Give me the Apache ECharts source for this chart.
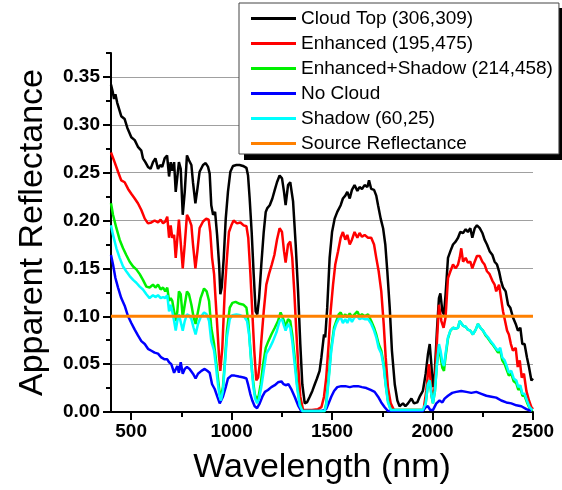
<!DOCTYPE html>
<html>
<head>
<meta charset="utf-8">
<script src="https://cdn.jsdelivr.net/npm/echarts@6/dist/echarts.min.js"></script>
<style>
  html, body { margin: 0; padding: 0; background: #fff; }
  #chart { width: 562px; height: 490px; }
</style>
</head>
<body>
<div id="chart"></div>
<script>
// [wavelength nm, apparent reflectance]
const cloudTop = [
  [400,0.342],[408,0.335],[415,0.327],[422,0.332],[431,0.323],[451,0.309],[468,0.306],[481,0.297],
  [501,0.287],[518,0.284],[534,0.277],[551,0.273],[559,0.265],[571,0.261],[584,0.256],[597,0.254],
  [609,0.261],[621,0.265],[634,0.254],[645,0.258],[655,0.256],[667,0.265],[679,0.268],[689,0.246],
  [697,0.261],[705,0.252],[714,0.261],[722,0.230],[730,0.228],[738,0.261],[747,0.254],[757,0.206],
  [767,0.230],[778,0.268],[788,0.263],[800,0.258],[808,0.240],[820,0.218],[830,0.233],[841,0.251],
  [858,0.258],[871,0.260],[883,0.256],[891,0.249],[899,0.216],[908,0.206],[918,0.209],[928,0.185],
  [938,0.154],[944,0.123],[951,0.130],[961,0.161],[971,0.202],[982,0.230],[994,0.251],[1007,0.257],
  [1024,0.258],[1040,0.258],[1057,0.257],[1074,0.255],[1082,0.247],[1090,0.223],[1100,0.188],[1110,0.144],
  [1120,0.105],[1128,0.102],[1137,0.119],[1148,0.154],[1160,0.188],[1170,0.209],[1178,0.213],[1190,0.216],
  [1203,0.223],[1215,0.232],[1226,0.240],[1239,0.247],[1251,0.244],[1261,0.230],[1269,0.216],[1281,0.237],
  [1292,0.240],[1306,0.220],[1319,0.175],[1331,0.126],[1342,0.071],[1352,0.029],[1364,0.009],[1375,0.010],
  [1389,0.016],[1402,0.022],[1414,0.029],[1425,0.035],[1438,0.043],[1447,0.057],[1460,0.081],[1466,0.078],
  [1476,0.109],[1488,0.161],[1500,0.188],[1513,0.202],[1526,0.209],[1543,0.216],[1554,0.223],[1566,0.226],
  [1576,0.230],[1588,0.223],[1599,0.232],[1612,0.237],[1626,0.231],[1637,0.235],[1649,0.233],[1662,0.237],
  [1676,0.235],[1684,0.242],[1695,0.233],[1709,0.232],[1720,0.226],[1729,0.216],[1742,0.202],[1754,0.192],
  [1765,0.175],[1775,0.147],[1787,0.109],[1798,0.064],[1812,0.029],[1825,0.012],[1836,0.006],[1853,0.009],
  [1865,0.006],[1878,0.009],[1895,0.014],[1908,0.009],[1924,0.010],[1936,0.016],[1952,0.022],[1966,0.040],
  [1977,0.060],[1986,0.071],[1994,0.050],[2002,0.026],[2011,0.040],[2022,0.085],[2032,0.119],[2039,0.124],
  [2049,0.105],[2057,0.102],[2065,0.123],[2077,0.161],[2089,0.168],[2102,0.175],[2115,0.178],[2127,0.182],
  [2138,0.188],[2152,0.187],[2165,0.191],[2176,0.188],[2188,0.192],[2198,0.182],[2210,0.192],[2221,0.195],
  [2235,0.192],[2248,0.187],[2259,0.180],[2271,0.175],[2284,0.168],[2298,0.164],[2309,0.157],[2321,0.154],
  [2331,0.147],[2341,0.137],[2351,0.130],[2364,0.126],[2376,0.112],[2387,0.109],[2400,0.099],[2414,0.092],
  [2425,0.085],[2437,0.088],[2447,0.071],[2458,0.071],[2470,0.057],[2480,0.047],[2492,0.033],[2500,0.035]
];

const enhanced = [
  [400,0.271],[418,0.261],[435,0.251],[451,0.242],[468,0.240],[485,0.233],[501,0.228],[518,0.223],
  [534,0.218],[551,0.211],[568,0.202],[584,0.197],[601,0.198],[617,0.200],[634,0.198],[647,0.201],
  [659,0.197],[670,0.199],[680,0.204],[689,0.182],[697,0.195],[705,0.182],[714,0.185],[722,0.161],
  [730,0.161],[738,0.201],[747,0.199],[757,0.150],[767,0.175],[778,0.206],[788,0.202],[800,0.195],
  [808,0.175],[820,0.150],[830,0.168],[841,0.192],[858,0.199],[874,0.202],[886,0.201],[894,0.188],
  [903,0.161],[913,0.144],[921,0.116],[928,0.092],[938,0.057],[944,0.043],[954,0.067],[966,0.126],
  [977,0.161],[987,0.188],[999,0.195],[1010,0.200],[1027,0.197],[1044,0.198],[1060,0.195],[1074,0.194],
  [1083,0.182],[1093,0.147],[1103,0.105],[1113,0.064],[1123,0.033],[1132,0.036],[1140,0.050],[1148,0.074],
  [1160,0.105],[1173,0.133],[1186,0.144],[1200,0.154],[1213,0.164],[1226,0.180],[1239,0.192],[1251,0.188],
  [1261,0.168],[1269,0.156],[1281,0.175],[1292,0.178],[1302,0.161],[1312,0.126],[1322,0.085],[1332,0.047],
  [1342,0.016],[1356,0.002],[1400,0.002],[1430,0.003],[1447,0.005],[1460,0.016],[1471,0.036],[1483,0.071],
  [1493,0.105],[1505,0.133],[1516,0.154],[1530,0.168],[1543,0.182],[1554,0.188],[1566,0.180],[1576,0.185],
  [1588,0.175],[1599,0.180],[1612,0.188],[1626,0.182],[1637,0.187],[1649,0.183],[1662,0.185],[1679,0.182],
  [1695,0.182],[1709,0.175],[1720,0.161],[1732,0.147],[1745,0.126],[1757,0.092],[1767,0.057],[1778,0.026],
  [1792,0.009],[1808,0.002],[1955,0.002],[1969,0.022],[1982,0.050],[1989,0.036],[1999,0.012],[2011,0.026],
  [2022,0.074],[2032,0.112],[2044,0.095],[2055,0.088],[2065,0.099],[2077,0.140],[2089,0.147],[2102,0.154],
  [2115,0.150],[2127,0.154],[2135,0.161],[2143,0.171],[2152,0.157],[2165,0.161],[2176,0.156],[2188,0.157],
  [2198,0.150],[2210,0.157],[2221,0.163],[2235,0.163],[2248,0.157],[2259,0.154],[2271,0.147],[2284,0.144],
  [2298,0.137],[2309,0.133],[2317,0.126],[2331,0.133],[2341,0.119],[2351,0.105],[2361,0.095],[2371,0.085],
  [2380,0.081],[2390,0.071],[2400,0.064],[2414,0.067],[2424,0.047],[2434,0.054],[2444,0.036],[2455,0.040],
  [2467,0.022],[2480,0.012],[2492,0.005],[2500,0.003]
];

const enhancedShadow = [
  [400,0.218],[410,0.206],[427,0.192],[443,0.180],[460,0.171],[476,0.164],[493,0.157],[510,0.152],
  [526,0.149],[543,0.144],[559,0.138],[576,0.131],[592,0.130],[609,0.133],[621,0.130],[634,0.133],
  [647,0.128],[659,0.130],[670,0.126],[680,0.130],[689,0.116],[697,0.119],[705,0.116],[714,0.105],
  [722,0.095],[730,0.105],[738,0.126],[747,0.123],[757,0.099],[767,0.112],[778,0.126],[788,0.123],
  [800,0.112],[811,0.099],[821,0.092],[833,0.105],[846,0.119],[863,0.129],[876,0.126],[888,0.116],
  [899,0.088],[913,0.071],[921,0.057],[932,0.036],[941,0.019],[947,0.016],[957,0.026],[967,0.054],
  [977,0.085],[991,0.109],[1004,0.114],[1020,0.115],[1040,0.113],[1060,0.112],[1074,0.109],[1083,0.095],
  [1093,0.067],[1103,0.040],[1115,0.019],[1125,0.013],[1135,0.017],[1145,0.029],[1157,0.050],[1170,0.067],
  [1183,0.074],[1198,0.081],[1215,0.088],[1231,0.095],[1244,0.104],[1253,0.105],[1261,0.095],[1269,0.088],
  [1281,0.097],[1292,0.095],[1302,0.081],[1314,0.057],[1326,0.029],[1339,0.009],[1352,0.001],[1463,0.001],
  [1471,0.009],[1483,0.036],[1496,0.067],[1510,0.088],[1521,0.095],[1533,0.102],[1543,0.104],[1554,0.099],
  [1566,0.102],[1576,0.099],[1588,0.103],[1599,0.099],[1612,0.102],[1626,0.105],[1637,0.100],[1649,0.102],
  [1662,0.100],[1679,0.102],[1695,0.095],[1709,0.088],[1720,0.081],[1732,0.071],[1745,0.064],[1757,0.050],
  [1767,0.029],[1778,0.012],[1792,0.002],[1955,0.002],[1966,0.009],[1977,0.029],[1986,0.033],[1994,0.019],
  [2002,0.009],[2012,0.022],[2022,0.050],[2032,0.068],[2040,0.058],[2049,0.046],[2057,0.043],[2065,0.058],
  [2077,0.077],[2089,0.085],[2102,0.088],[2115,0.087],[2127,0.088],[2135,0.095],[2143,0.097],[2152,0.090],
  [2165,0.089],[2176,0.086],[2188,0.085],[2201,0.081],[2215,0.086],[2226,0.092],[2238,0.088],[2251,0.085],
  [2264,0.080],[2276,0.077],[2289,0.073],[2301,0.070],[2314,0.066],[2326,0.062],[2337,0.064],[2347,0.054],
  [2359,0.050],[2371,0.043],[2380,0.038],[2392,0.040],[2404,0.032],[2417,0.030],[2427,0.023],[2437,0.026],
  [2447,0.017],[2458,0.017],[2470,0.010],[2483,0.004],[2497,0.001]
];

const noCloud = [
  [400,0.164],[410,0.154],[422,0.140],[435,0.130],[451,0.119],[468,0.111],[485,0.100],[501,0.093],
  [518,0.086],[534,0.080],[551,0.074],[568,0.071],[584,0.066],[601,0.064],[617,0.062],[634,0.061],
  [650,0.057],[667,0.055],[680,0.055],[689,0.052],[700,0.050],[714,0.041],[722,0.043],[730,0.048],
  [738,0.041],[747,0.052],[757,0.040],[767,0.045],[778,0.047],[791,0.045],[808,0.040],[821,0.035],
  [833,0.040],[850,0.043],[866,0.045],[879,0.043],[891,0.041],[903,0.029],[916,0.024],[929,0.016],
  [941,0.009],[949,0.009],[957,0.016],[971,0.026],[982,0.035],[999,0.038],[1015,0.038],[1037,0.037],
  [1060,0.036],[1074,0.035],[1083,0.028],[1093,0.019],[1103,0.012],[1115,0.006],[1127,0.004],[1140,0.009],
  [1153,0.016],[1166,0.021],[1181,0.023],[1198,0.026],[1215,0.028],[1231,0.031],[1248,0.032],[1259,0.029],
  [1269,0.028],[1283,0.029],[1297,0.024],[1314,0.016],[1331,0.007],[1347,0.001],[1447,0.001],[1471,0.003],
  [1483,0.009],[1496,0.016],[1510,0.022],[1526,0.026],[1546,0.027],[1566,0.027],[1588,0.026],[1609,0.027],
  [1629,0.027],[1649,0.026],[1671,0.025],[1692,0.023],[1712,0.021],[1729,0.016],[1745,0.010],[1762,0.005],
  [1778,0.001],[1952,0.001],[1966,0.005],[1977,0.006],[1989,0.002],[2002,0.002],[2019,0.009],[2035,0.012],
  [2049,0.010],[2060,0.014],[2077,0.017],[2098,0.020],[2118,0.021],[2143,0.022],[2168,0.021],[2193,0.020],
  [2218,0.021],[2243,0.019],[2268,0.017],[2293,0.016],[2317,0.015],[2342,0.012],[2367,0.010],[2392,0.009],
  [2417,0.007],[2442,0.006],[2467,0.003],[2492,0.001]
];

const shadow = [
  [400,0.195],[410,0.185],[427,0.171],[443,0.161],[460,0.152],[476,0.147],[493,0.142],[510,0.138],
  [526,0.135],[543,0.131],[559,0.128],[576,0.123],[592,0.119],[609,0.122],[621,0.120],[634,0.122],
  [647,0.119],[659,0.120],[670,0.119],[680,0.122],[689,0.105],[697,0.112],[705,0.105],[714,0.095],
  [722,0.085],[730,0.095],[738,0.102],[747,0.100],[757,0.085],[767,0.095],[778,0.102],[788,0.101],
  [800,0.097],[811,0.088],[821,0.081],[833,0.092],[846,0.099],[863,0.104],[876,0.102],[888,0.095],
  [899,0.074],[913,0.064],[921,0.050],[932,0.029],[941,0.016],[947,0.012],[957,0.022],[967,0.050],
  [977,0.078],[991,0.097],[1004,0.101],[1024,0.102],[1044,0.101],[1065,0.099],[1077,0.095],[1087,0.081],
  [1097,0.054],[1107,0.029],[1117,0.014],[1127,0.009],[1137,0.014],[1148,0.026],[1160,0.043],[1173,0.061],
  [1190,0.067],[1206,0.074],[1223,0.083],[1239,0.095],[1251,0.097],[1261,0.090],[1269,0.085],[1281,0.092],
  [1292,0.088],[1302,0.074],[1314,0.050],[1326,0.026],[1339,0.007],[1352,0.001],[1463,0.001],[1471,0.007],
  [1483,0.033],[1496,0.064],[1510,0.085],[1521,0.092],[1533,0.097],[1543,0.099],[1554,0.093],[1566,0.097],
  [1576,0.093],[1588,0.099],[1599,0.094],[1612,0.099],[1626,0.100],[1637,0.097],[1649,0.098],[1662,0.097],
  [1679,0.097],[1695,0.092],[1709,0.085],[1720,0.078],[1732,0.067],[1745,0.061],[1757,0.047],[1767,0.028],
  [1778,0.010],[1792,0.002],[1952,0.002],[1966,0.009],[1977,0.029],[1986,0.033],[1994,0.019],[2002,0.009],
  [2012,0.022],[2022,0.050],[2032,0.071],[2040,0.064],[2049,0.052],[2057,0.048],[2065,0.061],[2077,0.078],
  [2089,0.085],[2102,0.088],[2115,0.087],[2127,0.088],[2135,0.095],[2143,0.097],[2152,0.090],[2165,0.089],
  [2176,0.086],[2188,0.085],[2201,0.081],[2215,0.086],[2226,0.092],[2238,0.088],[2251,0.085],[2264,0.081],
  [2276,0.078],[2289,0.074],[2301,0.071],[2314,0.067],[2326,0.064],[2337,0.067],[2347,0.057],[2359,0.054],
  [2371,0.047],[2380,0.041],[2392,0.043],[2404,0.035],[2417,0.033],[2427,0.026],[2437,0.028],[2447,0.019],
  [2458,0.019],[2470,0.012],[2483,0.005],[2497,0.002]
];

const sourceRange = [400, 2500];
const sourceLevel = 0.10;

const xMajorTicks = [500, 1000, 1500, 2000, 2500];
const xMinorTicks = [750, 1250, 1750, 2250];
const yMajorTicks = [0, 0.05, 0.10, 0.15, 0.20, 0.25, 0.30, 0.35];
const yMinorTicks = [0.025, 0.075, 0.125, 0.175, 0.225, 0.275, 0.325, 0.375];

const names = [
  'Cloud Top (306,309)',
  'Enhanced (195,475)',
  'Enhanced+Shadow (214,458)',
  'No Cloud',
  'Shadow (60,25)',
  'Source Reflectance'
];
const colors = ['#000000', '#ff0000', '#00f000', '#0000ff', '#00ffff', '#ff8000'];
const seriesData = [
  cloudTop, enhanced, enhancedShadow, noCloud, shadow,
  sourceRange.map(w => [w, sourceLevel])
];

const FONT = 'Liberation Sans, Arial, sans-serif';

const chart = echarts.init(document.getElementById('chart'), null, { renderer: 'canvas' });

const xRange = { min: 400, max: 2500 };
const yRange = { min: 0, max: 0.375 };

chart.setOption({
  animation: false,
  backgroundColor: '#fff',
  grid: { left: 111, right: 29, top: 53, bottom: 75 },
  // hard drop shadow behind the legend box
  graphic: [{
    type: 'rect',
    left: 244, top: 8, z: 1, silent: true,
    shape: { width: 330, height: 152 },
    style: { fill: '#000' }
  }],
  legend: {
    data: names,
    orient: 'vertical',
    left: 239,
    top: 3,
    z: 10,
    padding: [6, 6, 1, 12],
    icon: 'rect',
    itemWidth: 45,
    itemHeight: 3,
    itemGap: 6,
    backgroundColor: '#fff',
    borderColor: '#444',
    borderWidth: 1,
    textStyle: { fontFamily: FONT, fontSize: 19, color: '#000', lineHeight: 19 }
  },
  xAxis: [
    {
      type: 'value',
      ...xRange,
      name: 'Wavelength (nm)',
      nameLocation: 'middle',
      nameGap: 39,
      nameTextStyle: { fontFamily: FONT, fontSize: 34, color: '#000' },
      axisLine: { show: true, onZero: false, lineStyle: { color: '#000', width: 2 } },
      axisTick: { show: true, customValues: xMajorTicks, length: 8, lineStyle: { color: '#000', width: 2 } },
      axisLabel: {
        customValues: xMajorTicks,
        margin: 10,
        formatter: v => String(v),
        fontFamily: FONT, fontSize: 19, fontWeight: 'bold', color: '#000'
      },
      splitLine: { show: false }
    },
    {
      type: 'value',
      ...xRange,
      position: 'bottom',
      axisLine: { show: false, onZero: false },
      axisTick: { show: true, customValues: xMinorTicks, length: 5, lineStyle: { color: '#000', width: 2 } },
      axisLabel: { show: false },
      splitLine: { show: false }
    }
  ],
  yAxis: [
    {
      type: 'value',
      ...yRange,
      interval: 0.05,
      name: 'Apparent Reflectance',
      nameLocation: 'middle',
      nameGap: 61,
      nameTextStyle: { fontFamily: FONT, fontSize: 34, color: '#000' },
      axisLine: { show: true, lineStyle: { color: '#000', width: 2 } },
      axisTick: { show: true, customValues: yMajorTicks, length: 8, lineStyle: { color: '#000', width: 2 } },
      axisLabel: {
        customValues: yMajorTicks,
        margin: 11,
        formatter: v => v.toFixed(2),
        fontFamily: FONT, fontSize: 19, fontWeight: 'bold', color: '#000'
      },
      splitLine: { show: true, lineStyle: { color: '#a0a0a0', width: 1 } }
    },
    {
      type: 'value',
      ...yRange,
      position: 'left',
      axisLine: { show: false },
      axisTick: { show: true, customValues: yMinorTicks, length: 5, lineStyle: { color: '#000', width: 2 } },
      axisLabel: { show: false },
      splitLine: { show: false }
    }
  ],
  series: names.map((name, i) => ({
    name,
    type: 'line',
    data: seriesData[i],
    symbol: 'none',
    clip: false,
    color: colors[i],
    lineStyle: { color: colors[i], width: i === 5 ? 3 : 2.5 },
    emphasis: { disabled: true }
  }))
});
</script>
</body>
</html>
